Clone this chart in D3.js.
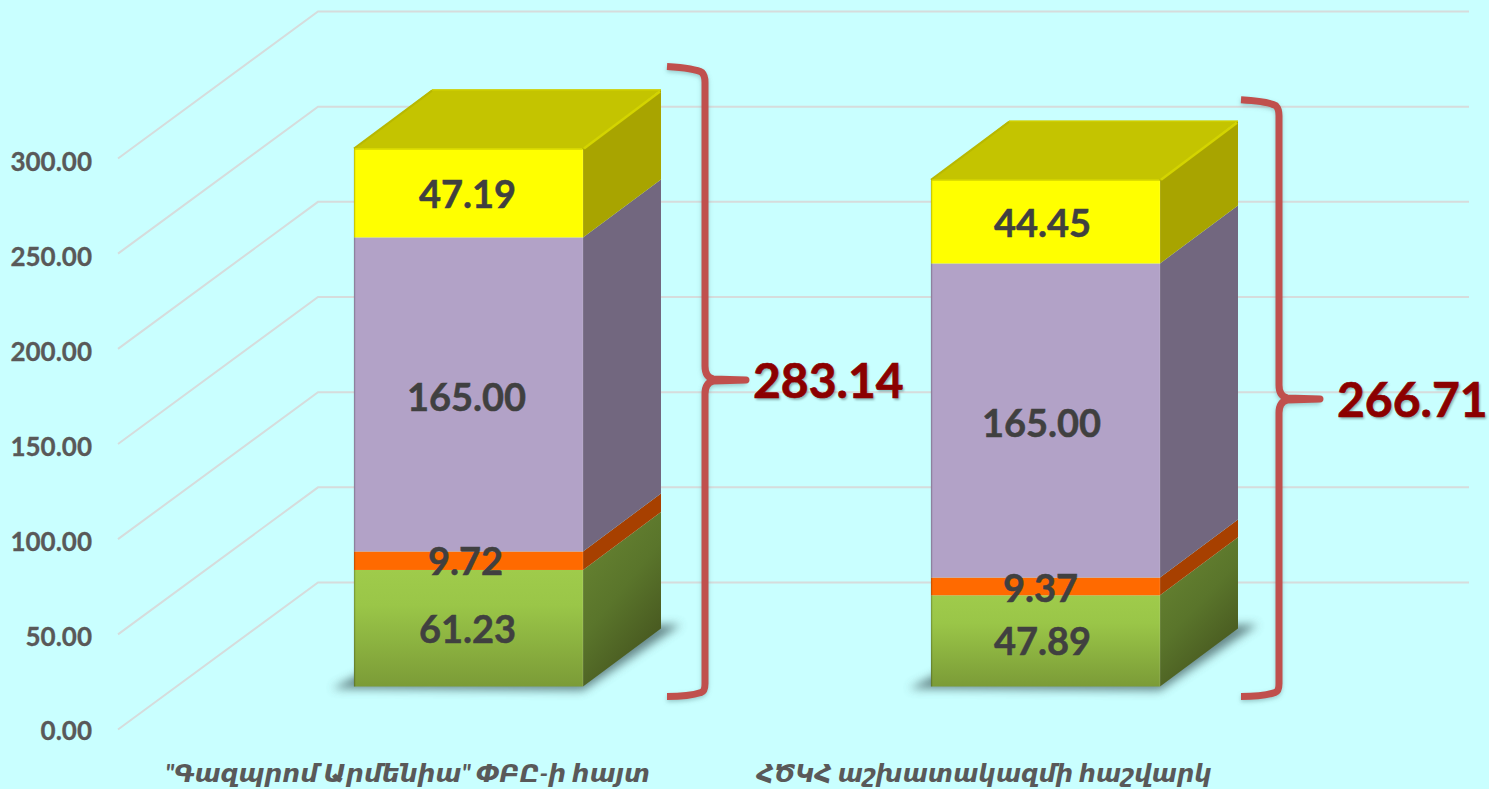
<!DOCTYPE html>
<html><head><meta charset="utf-8">
<script src="https://cdn.jsdelivr.net/npm/d3@7"></script>
<style>html,body{margin:0;padding:0;background:#c9ffff;overflow:hidden}svg{display:block}
text{font-family:Lato,"DejaVu Sans",sans-serif;font-weight:700}</style></head>
<body><svg id="c" width="1489" height="789"></svg>
<script>
const categories = ['"Գազպրոմ Արմենիա" ՓԲԸ-ի հայտ', 'ՀԾԿՀ աշխատակազմի հաշվարկ'];
const seriesNames = ['green', 'orange', 'purple', 'yellow'];
const greenValues = [61.23, 47.89];
const orangeValues = [9.72, 9.37];
const purpleValues = [165.00, 165.00];
const yellowValues = [47.19, 44.45];
const totals = [283.14, 266.71];
const tickValues = [0, 50, 100, 150, 200, 250, 300];
const seriesValues = [greenValues, orangeValues, purpleValues, yellowValues];

const svg = d3.select('#c');
const W = 1489, H = 789;
const y = d3.scaleLinear().domain([0, 300]).range([729.5, 158.5]);
const x = d3.scaleOrdinal().domain(categories).range([354, 931]);
const barW = 229, depthX = 78, depthY = 58, floorY = 43;   // bar geometry
const wallDX = 200, wallDY = 147, wallL = 118, wallR = 1469;
const bary = v => y(v) - floorY;

const defs = svg.append('defs');
function grad(id, x1, y1, x2, y2, stops){
  const g = defs.append('linearGradient').attr('id', id)
    .attr('x1',x1).attr('y1',y1).attr('x2',x2).attr('y2',y2);
  stops.forEach(s => g.append('stop').attr('offset',s[0]).attr('stop-color',s[1]));
}
grad('gf',0,0,0,1,[[0,'#9fcb4b'],[0.3,'#9ac648'],[1,'#7b9b37']]);
grad('gs',0,0,0.55,1,[[0,'#6a8733'],[0.55,'#5a752b'],[1,'#46561f']]);
const blur = (id,s)=>defs.append('filter').attr('id',id).attr('x','-30%').attr('y','-30%').attr('width','160%').attr('height','160%')
  .append('feGaussianBlur').attr('stdDeviation',s);
blur('b6',5); blur('b2',2); blur('b1',1);

svg.append('rect').attr('width',W).attr('height',H).attr('fill','#c9ffff');

// gridlines
const grid = svg.append('g').attr('stroke','#d6dcdc').attr('stroke-width',2).attr('fill','none');
tickValues.forEach(t=>{
  grid.append('path').attr('d',d3.line()([[wallL,y(t)],[wallL+wallDX,y(t)-wallDY],[wallR,y(t)-wallDY]]));
});

// axis labels
svg.append('g').selectAll('text').data(tickValues).join('text')
  .attr('x',92).attr('y',d=>y(d)+10+d/150+(d>0&&d<300?1:0)).attr('text-anchor','end')
  .attr('font-size',26).attr('fill','#595959').attr('stroke','#595959').attr('stroke-width',.3)
  .text(d=>d3.format('.2f')(d));

const faces = {
  front:['url(#gf)','#ff6a00','#b2a2c7','#ffff00'],
  side:['url(#gs)','#a74000','#72677f','#a8a400']
};
const poly = pts => d3.line()(pts)+'Z';
const labelDY = [[1,-2,3,2],[-2,-2,3,2]];
const labelDX = [[0,-2,-1,0],[0,-2,-1,0]];

categories.forEach((c,i)=>{
  const g = svg.append('g');
  const X = x(c), base = bary(0);
  // floor shadow
  g.append('path').attr('filter','url(#b6)').attr('fill','#4d6a6c').attr('opacity',.8)
    .attr('d',poly([[X-22,base+2],[X+barW,base+4],[X+barW+depthX+20,base-depthY-4],[X+depthX,base-depthY],[X+40,base-30]]));
  let cum = 0;
  seriesValues.forEach((vals,s)=>{
    const v = vals[i], y0 = bary(cum), y1 = bary(cum+v);
    g.append('path').attr('fill',faces.side[s])
      .attr('d',poly([[X+barW,y0],[X+barW+depthX,y0-depthY],[X+barW+depthX,y1-depthY],[X+barW,y1]]));
    g.append('rect').attr('x',X).attr('y',y1).attr('width',barW).attr('height',y0-y1).attr('fill',faces.front[s]);
    cum += v;
  });
  // bevels on bar edges
  const top = bary(cum);
  g.append('path').attr('fill','#c4c400')
    .attr('d',poly([[X,top+2],[X+depthX,top-depthY],[X+barW+depthX,top-depthY],[X+barW,top+2]]));
  g.append('path').attr('stroke','#d4d400').attr('stroke-width',2.5).attr('fill','none')
    .attr('d',d3.line()([[X+barW+1,top+1],[X+barW+depthX-1,top-depthY+2]]));
  g.append('path').attr('stroke','#b8b800').attr('stroke-width',2).attr('fill','none')
    .attr('d',d3.line()([[X,top+1],[X+depthX,top-depthY+1]]));
  g.append('path').attr('stroke','#cfcf00').attr('stroke-width',1.5).attr('fill','none')
    .attr('d',d3.line()([[X+depthX,top-depthY+.5],[X+barW+depthX,top-depthY+.5]]));
  g.append('path').attr('stroke','#dede00').attr('stroke-width',1.5).attr('fill','none')
    .attr('d',d3.line()([[X+1,top+1.5],[X+barW-1,top+1.5]]));
  g.append('path').attr('stroke','#000').attr('stroke-opacity',.2).attr('stroke-width',1.5).attr('fill','none')
    .attr('d',d3.line()([[X+.5,top+2],[X+.5,base]]));
  g.append('path').attr('stroke','#fff').attr('stroke-opacity',.1).attr('stroke-width',1.5).attr('fill','none')
    .attr('d',d3.line()([[X+barW,top+2],[X+barW,base]]));
  // labels
  cum = 0;
  seriesValues.forEach((vals,s)=>{
    const v = vals[i];
    const mid = bary(cum+v/2);
    const shift = (s===1?2:0)+(i===1&&s<2?2:0)+labelDY[i][s];
    g.append('text').attr('x',X+barW/2-1-(i===1?2:0)+labelDX[i][s]).attr('y',mid+14+shift).attr('text-anchor','middle')
      .attr('font-size',38).attr('fill','#404040').attr('stroke','#404040').attr('stroke-width',.5)
      .text(d3.format('.2f')(v));
    cum += v;
  });
  // brace
  const bx = i===0 ? X+barW+122 : X+barW+119;
  const t = top - (i===0?81:79), b = base + 5, mid = i===0 ? 380 : 399;
  const w = 38, tip = 41;
  const braceD = `M${bx-w},${t} C${bx-22},${t+1} ${bx-8},${t+3} ${bx-3},${t+6} Q${bx},${t+9} ${bx},${t+16}
    L${bx},${mid-14} Q${bx},${mid-3} ${bx+tip*.2},${mid-1} L${bx+tip},${mid}
    L${bx+tip*.2},${mid+1} Q${bx},${mid+3} ${bx},${mid+14}
    L${bx},${b-8} Q${bx},${b} ${bx-4},${b+1} C${bx-10},${b+3} ${bx-22},${b+5} ${bx-w},${b+5}`;
  g.append('path').attr('d',braceD).attr('fill','none').attr('stroke','#5f8f90').attr('stroke-opacity',.45)
    .attr('stroke-width',7).attr('filter','url(#b2)').attr('transform','translate(0,2)');
  g.append('path').attr('d',braceD).attr('fill','none').attr('stroke','#c0504d').attr('stroke-width',7)
    .attr('stroke-linejoin','round').attr('stroke-linecap','butt');
  // totals
  const tx = bx+tip+ (i===0?7:17) , ty = mid + 18;
  g.append('text').attr('x',tx+1.5).attr('y',ty+2).attr('font-size',48).attr('fill','#4a6a6a').attr('opacity',.5)
    .attr('filter','url(#b1)').text(d3.format('.2f')(totals[i]));
  g.append('text').attr('x',tx).attr('y',ty).attr('font-size',48).attr('fill','#8b0000')
    .attr('stroke','#8b0000').attr('stroke-width',.7).text(d3.format('.2f')(totals[i]));
  // category
  svg.append('text').attr('x',[407.5,984][i]).attr('y',782).attr('text-anchor','middle')
    .attr('font-size',[25,24.3][i]).attr('font-style','italic').attr('fill','#595959').text(c);
});
</script></body></html>
